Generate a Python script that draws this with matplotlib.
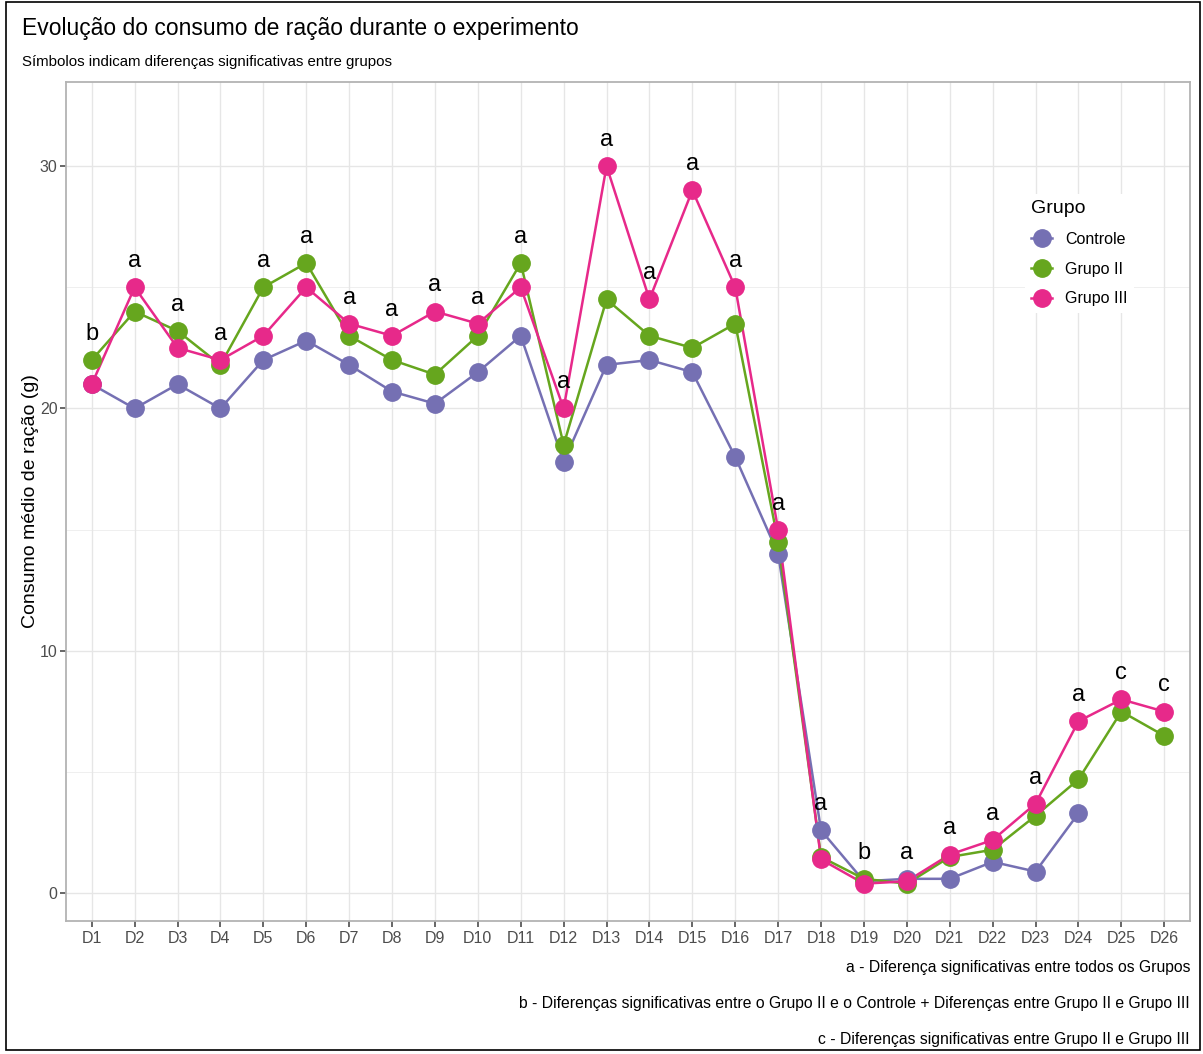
import numpy as np
import matplotlib
matplotlib.use("Agg")
import matplotlib.pyplot as plt
from matplotlib.lines import Line2D
from matplotlib.patches import Rectangle

plt.rcParams['font.family'] = ['Liberation Sans', 'DejaVu Sans']

# dias do experimento
dias = ['D1', 'D2', 'D3', 'D4', 'D5', 'D6', 'D7', 'D8', 'D9', 'D10', 'D11', 'D12', 'D13',
        'D14', 'D15', 'D16', 'D17', 'D18', 'D19', 'D20', 'D21', 'D22', 'D23', 'D24', 'D25', 'D26']

# consumo medio de racao (g) por grupo
controle = [21.0, 20.0, 21.0, 20.0, 22.0, 22.8, 21.8, 20.7, 20.2, 21.5, 23.0, 17.8, 21.8,
            22.0, 21.5, 18.0, 14.0, 2.6, 0.5, 0.6, 0.6, 1.3, 0.9, 3.3, np.nan, np.nan]
grupo2 = [22.0, 24.0, 23.2, 21.8, 25.0, 26.0, 23.0, 22.0, 21.4, 23.0, 26.0, 18.5, 24.5,
          23.0, 22.5, 23.5, 14.5, 1.5, 0.6, 0.4, 1.5, 1.8, 3.2, 4.7, 7.5, 6.5]
grupo3 = [21.0, 25.0, 22.5, 22.0, 23.0, 25.0, 23.5, 23.0, 24.0, 23.5, 25.0, 20.0, 30.0,
          24.5, 29.0, 25.0, 15.0, 1.4, 0.4, 0.5, 1.6, 2.2, 3.7, 7.1, 8.0, 7.5]

# letras de significancia por dia
letras = ['b', 'a', 'a', 'a', 'a', 'a', 'a', 'a', 'a', 'a', 'a', 'a', 'a',
          'a', 'a', 'a', 'a', 'a', 'b', 'a', 'a', 'a', 'a', 'a', 'c', 'c']

grupos = ['Controle', 'Grupo II', 'Grupo III']
cores = ['#7570B3', '#66A61E', '#E7298A']
series = [controle, grupo2, grupo3]

notas = ['a - Diferença significativas entre todos os Grupos',
         'b - Diferenças significativas entre o Grupo II e o Controle + Diferenças entre Grupo II e Grupo III',
         'c - Diferenças significativas entre Grupo II e Grupo III']

W, H = 1203, 1054
fig = plt.figure(figsize=(W / 100, H / 100), dpi=100)
ax = fig.add_axes([66 / W, 1 - 921 / H, (1190 - 66) / W, (921 - 81.7) / H])

x = np.arange(1, len(dias) + 1)

# grade estilo theme_light
for v in [5, 15, 25]:
    ax.axhline(v, color='#EDEDED', lw=0.6, zorder=0)
for v in [0, 10, 20, 30]:
    ax.axhline(v, color='#E6E6E6', lw=1.0, zorder=0)
for xi in x:
    ax.axvline(xi, color='#E6E6E6', lw=1.0, zorder=0)

# linhas primeiro, depois os pontos
for s, c in zip(series, cores):
    ax.plot(x, s, color=c, lw=1.8, zorder=2)
for s, c in zip(series, cores):
    ax.plot(x, s, 'o', color=c, ms=12.5, zorder=3)

# letras acima do maior valor de cada dia
topo = np.nanmax(np.array(series), axis=0)
for xi, t, l in zip(x, topo, letras):
    ax.text(xi, t + 0.83, l, ha='center', va='baseline', fontsize=17, color='black', zorder=4)

ax.set_xlim(0.4, len(dias) + 0.6)
ax.set_ylim(-1.14, 33.48)
ax.set_xticks(x)
ax.set_xticklabels(dias)
ax.set_yticks([0, 10, 20, 30])
ax.tick_params(colors='#4D4D4D', labelcolor='#4D4D4D', labelsize=11.5, length=4, width=1.2)
ax.tick_params(axis='x', pad=3)
ax.tick_params(axis='y', pad=2)
for sp in ax.spines.values():
    sp.set_color('#B3B3B3')
    sp.set_linewidth(1.3)
ax.set_ylabel('Consumo médio de ração (g)', fontsize=14, labelpad=1)

handles = [Line2D([], [], color=c, lw=1.8, marker='o', ms=12.5) for c in cores]
leg = ax.legend(handles, grupos, title='Grupo', loc='upper left',
                bbox_to_anchor=(1017 / W, 1 - 186 / H), bbox_transform=fig.transFigure,
                fontsize=11.5, title_fontsize=14, frameon=True, fancybox=False,
                edgecolor='none', facecolor='white', framealpha=1,
                handlelength=1.3, handletextpad=0.8, labelspacing=0.92, borderpad=0.4)
leg._legend_box.align = 'left'

fig.text(22 / W, 1 - 35 / H, 'Evolução do consumo de ração durante o experimento',
         fontsize=16.5, ha='left', va='baseline')
fig.text(22 / W, 1 - 66 / H, 'Símbolos indicam diferenças significativas entre grupos',
         fontsize=10.8, ha='left', va='baseline')

for i, nota in enumerate(notas):
    fig.text(1190 / W, 1 - (972 + 36 * i) / H, nota, fontsize=11.3, ha='right', va='baseline')

# moldura externa
fig.patches.append(Rectangle((6 / W, 4 / H), (1200 - 6) / W, (1052 - 4) / H,
                             transform=fig.transFigure, fill=False, edgecolor='black', lw=1.2))

fig.savefig('out.png', dpi=100)
